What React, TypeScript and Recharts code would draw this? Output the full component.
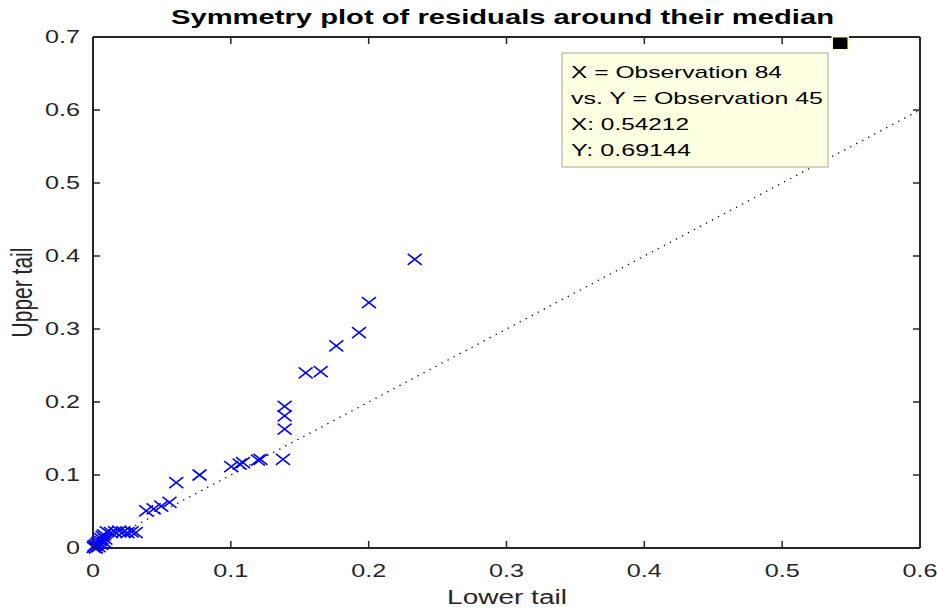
import React from 'react';
import { ScatterChart, Scatter, XAxis, YAxis, ReferenceLine } from 'recharts';

// lower tail (x) and upper tail (y) of the symmetry plot
const lowerTail = [
  0.2334, 0.2002, 0.193, 0.1765, 0.1652, 0.1543, 0.139, 0.139, 0.139, 0.1378,
  0.1197, 0.1215, 0.1088, 0.1064, 0.1003, 0.0773, 0.0604, 0.0555, 0.0495, 0.044,
  0.0386, 0.031, 0.028, 0.025, 0.022, 0.019, 0.016, 0.013, 0.01, 0.008,
  0.007, 0.006, 0.005, 0.004, 0.003, 0.002, 0.001, 0.0005, 0.008, 0.006,
  0.004, 0.009, 0.002,
];
const upperTail = [
  0.3955, 0.336, 0.295, 0.277, 0.2415, 0.24, 0.194, 0.181, 0.163, 0.1215,
  0.1205, 0.1215, 0.117, 0.115, 0.1114, 0.1, 0.0894, 0.0625, 0.0572, 0.0535,
  0.051, 0.021, 0.022, 0.021, 0.022, 0.023, 0.022, 0.021, 0.022, 0.018,
  0.016, 0.013, 0.01, 0.008, 0.006, 0.004, 0.003, 0.001, 0.008, 0.005,
  0.002, 0.012, 0.0,
];

const xTicks = [0, 0.1, 0.2, 0.3, 0.4, 0.5, 0.6];
const yTicks = [0, 0.1, 0.2, 0.3, 0.4, 0.5, 0.6, 0.7];

const tipX = 0.54212;
const tipY = 0.69144;
const tipLines = ['X = Observation 84', 'vs. Y = Observation 45', 'X: 0.54212', 'Y: 0.69144'];
const tipWidths = [211, 252, 118, 120];

const points = lowerTail.map((x, i) => ({ x, y: upperTail[i] }));
const tipPoint = [{ x: tipX, y: tipY }];

const FONT = '"Liberation Sans", Arial, Helvetica, sans-serif';
const AX = '#262626';
const TICK_LEN = 7;
const BOTTOM_GAP = 10;
const LEFT_GAP = 10;

const XTick = (props: any) => {
  const { x, y, payload } = props;
  const axisY = y - BOTTOM_GAP;
  return (
    <g>
      <line x1={x} x2={x} y1={axisY} y2={axisY - TICK_LEN} stroke={AX} strokeWidth={1.5} />
      <text
        x={x}
        y={axisY + 29}
        textAnchor="middle"
        fontSize={18}
        fontFamily={FONT}
        fill={AX}
        transform={`translate(${x} 0) scale(1.4 1) translate(${-x} 0)`}
      >
        {String(payload.value)}
      </text>
    </g>
  );
};

const YTick = (props: any) => {
  const { x, y, payload } = props;
  const axisX = x + LEFT_GAP;
  const tx = axisX - 13;
  return (
    <g>
      <line x1={axisX} x2={axisX + TICK_LEN} y1={y} y2={y} stroke={AX} strokeWidth={1.5} />
      <text
        x={tx}
        y={y}
        dy="0.355em"
        textAnchor="end"
        fontSize={18}
        fontFamily={FONT}
        fill={AX}
        transform={`translate(${tx} 0) scale(1.4 1) translate(${-tx} 0)`}
      >
        {String(payload.value)}
      </text>
    </g>
  );
};

const TopTick = (props: any) => {
  const { x, y } = props;
  return <line x1={x} x2={x} y1={y} y2={y + TICK_LEN} stroke={AX} strokeWidth={1.5} />;
};

const RightTick = (props: any) => {
  const { x, y } = props;
  return <line x1={x} x2={x - TICK_LEN} y1={y} y2={y} stroke={AX} strokeWidth={1.5} />;
};

const Cross = (props: any) => {
  const { cx, cy } = props;
  return (
    <g stroke="#0000ff" strokeWidth={1.6}>
      <line x1={cx - 7} y1={cy - 5.5} x2={cx + 7} y2={cy + 5.5} />
      <line x1={cx - 7} y1={cy + 5.5} x2={cx + 7} y2={cy - 5.5} />
    </g>
  );
};

const TipMarker = (props: any) => {
  const { cx, cy } = props;
  return <rect x={cx - 8} y={cy - 6.5} width={16} height={13} fill="#000" stroke="#ffffc8" strokeWidth={1.5} />;
};

export default function App() {
  return (
    <div style={{ position: 'absolute', left: 0, top: 0, width: 937, height: 609, background: '#fff' }}>
      <ScatterChart width={937} height={609} margin={{ top: 36, right: 16, bottom: 0, left: 0 }}>
        <XAxis
          dataKey="x"
          type="number"
          domain={[0, 0.6]}
          ticks={xTicks}
          interval={0}
          height={61}
          tickSize={0}
          tickMargin={BOTTOM_GAP}
          axisLine={{ stroke: AX, strokeWidth: 2 }}
          tickLine={false}
          tick={XTick}
        />
        <XAxis
          xAxisId="top"
          orientation="top"
          dataKey="x"
          type="number"
          domain={[0, 0.6]}
          ticks={xTicks}
          interval={0}
          height={1}
          tickSize={0}
          tickMargin={0}
          axisLine={{ stroke: AX, strokeWidth: 2 }}
          tickLine={false}
          tick={TopTick}
        />
        <YAxis
          dataKey="y"
          type="number"
          domain={[0, 0.7]}
          ticks={yTicks}
          interval={0}
          width={93}
          tickSize={0}
          tickMargin={LEFT_GAP}
          axisLine={{ stroke: AX, strokeWidth: 2 }}
          tickLine={false}
          tick={YTick}
        />
        <YAxis
          yAxisId="right"
          orientation="right"
          dataKey="y"
          type="number"
          domain={[0, 0.7]}
          ticks={yTicks}
          interval={0}
          width={1}
          tickSize={0}
          tickMargin={0}
          axisLine={{ stroke: AX, strokeWidth: 2 }}
          tickLine={false}
          tick={RightTick}
        />
        <ReferenceLine
          segment={[{ x: 0, y: 0 }, { x: 0.6, y: 0.6 }]}
          stroke="#000"
          strokeWidth={1.3}
          strokeDasharray="1.3 5.5"
        />
        <Scatter data={points} shape={Cross} isAnimationActive={false} />
        <Scatter
          data={tipPoint}
          xAxisId="top"
          yAxisId="right"
          shape={TipMarker}
          isAnimationActive={false}
        />
      </ScatterChart>
      <svg
        width={937}
        height={609}
        style={{ position: 'absolute', left: 0, top: 0, pointerEvents: 'none' }}
      >
        <text
          x={502.5}
          y={24}
          textAnchor="middle"
          fontSize={21}
          fontWeight="bold"
          fontFamily={FONT}
          fill="#000"
          textLength={663}
          lengthAdjust="spacingAndGlyphs"
        >
          Symmetry plot of residuals around their median
        </text>
        <text
          x={507}
          y={604}
          textAnchor="middle"
          fontSize={20}
          fontFamily={FONT}
          fill={AX}
          transform="translate(507 0) scale(1.4 1) translate(-507 0)"
        >
          Lower tail
        </text>
        <text
          textAnchor="middle"
          fontSize={21}
          fontFamily={FONT}
          fill={AX}
          transform="translate(32 292.5) scale(1.4 1) rotate(-90)"
        >
          Upper tail
        </text>
        <rect x={562} y={53} width={266} height={114} fill="#ffffe1" stroke="#c4c4b8" strokeWidth={1.5} />
        {tipLines.map((t, i) => (
          <text
            key={t}
            x={571}
            y={78 + i * 26}
            fontSize={17}
            fontFamily={FONT}
            fill="#000"
            textLength={tipWidths[i]}
            lengthAdjust="spacingAndGlyphs"
          >
            {t}
          </text>
        ))}
      </svg>
    </div>
  );
}
